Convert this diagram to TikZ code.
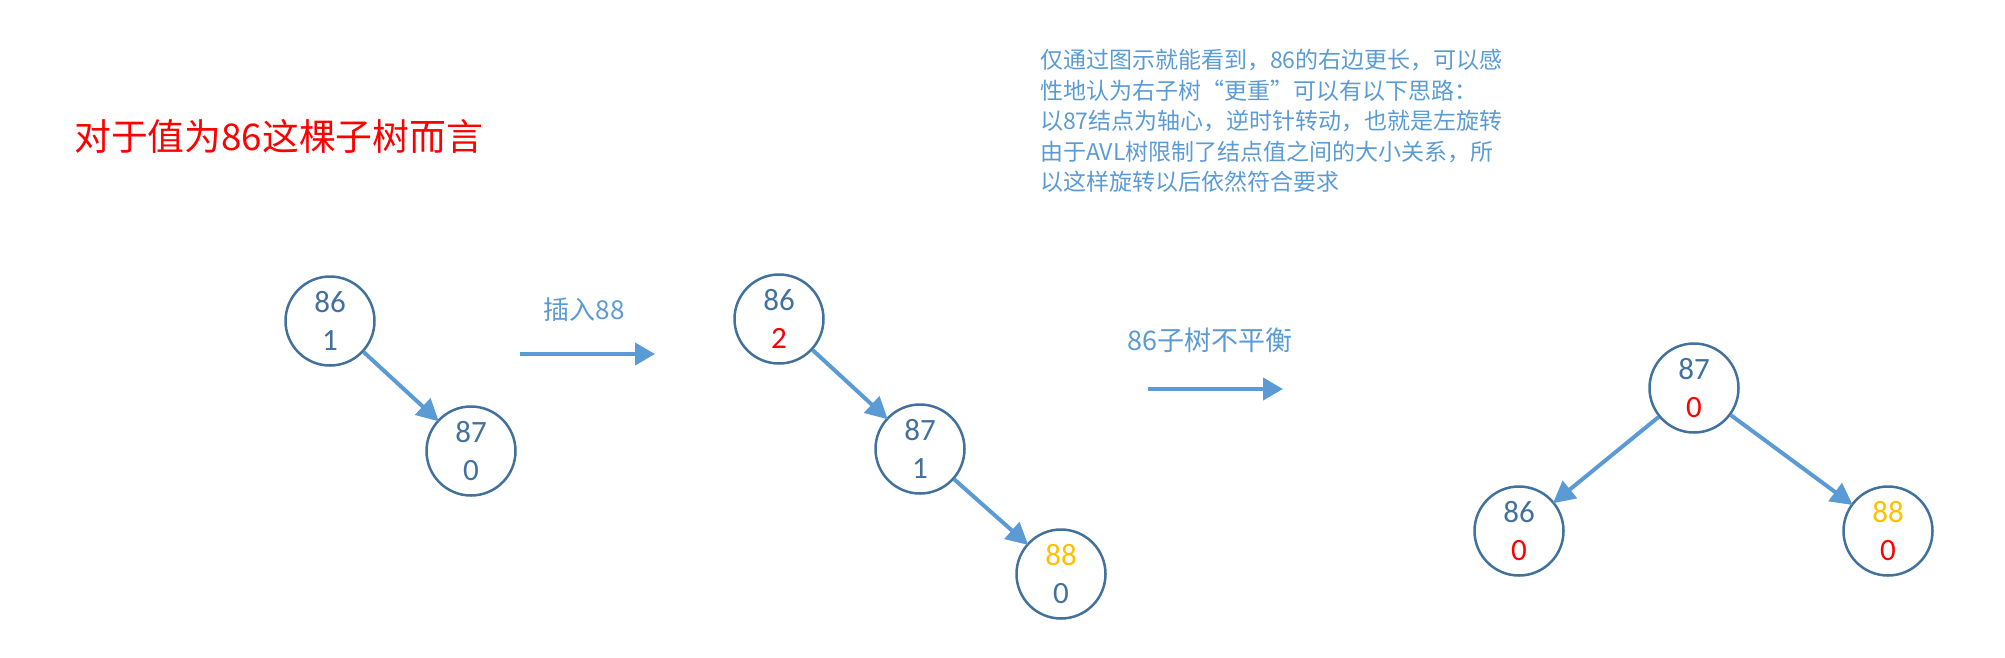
\documentclass[tikz,border=0pt]{standalone}
\usepackage{fontspec}
\setmainfont{Carlito}
\newfontfamily\cjk{Noto Sans CJK SC}
\usetikzlibrary{arrows.meta}
\definecolor{nodeblue}{HTML}{41719C}
\definecolor{lightblue}{HTML}{5B9BD5}
\definecolor{myred}{HTML}{FF0000}
\definecolor{myyellow}{HTML}{FFC000}
\tikzset{
  treenode/.style={circle, draw=nodeblue, line width=2.5pt, minimum size=89pt, inner sep=0pt,
    align=center, text=nodeblue, font=\fontsize{31}{38}\selectfont},
  edgearrow/.style={draw=lightblue, line width=4pt, -{Triangle[length=22pt,width=22pt]}, shorten >=-2pt},
  steparrow/.style={draw=lightblue, line width=4pt, -{Triangle[length=20pt,width=22pt]}},
  steplabel/.style={text=lightblue, inner sep=0pt},
}
\begin{document}
\begin{tikzpicture}[x=1pt,y=-1pt]
\useasboundingbox (0,0) rectangle (2005,657);
% title
\node[anchor=west, inner sep=0pt, text=myred, font=\cjk\fontsize{36.8}{40}\selectfont] (title) at (74,136) {对于值为86这棵子树而言};
% explanation
\node[anchor=north west, inner sep=0pt, align=left, text=lightblue, font=\cjk\fontsize{23}{30.5}\selectfont] (note) at (1040,49)
{仅通过图示就能看到，86的右边更长，可以感\\
性地认为右子树“更重”可以有以下思路：\\
以87结点为轴心，逆时针转动，也就是左旋转\\
由于AVL树限制了结点值之间的大小关系，所\\
以这样旋转以后依然符合要求};
% tree 1
\node[treenode] (a1) at (330,321) {86\\1};
\node[treenode] (a2) at (471,451) {87\\0};
\draw[edgearrow] (a1) -- (a2);
% arrow 1
\coordinate (s1) at (520,354);
\coordinate (e1) at (655,354);
\draw[steparrow] (s1) -- (e1);
\node[steplabel, font=\cjk\fontsize{26}{30}\selectfont] (l1) at (584,310) {插入88};
% tree 2
\node[treenode] (b1) at (779,319) {86\\{\color{myred}2}};
\node[treenode] (b2) at (920,449) {87\\1};
\node[treenode] (b3) at (1061,574) {{\color{myyellow}88}\\0};
\draw[edgearrow] (b1) -- (b2);
\draw[edgearrow] (b2) -- (b3);
% arrow 2
\coordinate (s2) at (1148,389);
\coordinate (e2) at (1283,389);
\draw[steparrow] (s2) -- (e2);
\node[steplabel, font=\cjk\fontsize{27}{30}\selectfont] (l2) at (1210,340) {86子树不平衡};
% tree 3
\node[treenode] (c1) at (1694,388) {87\\{\color{myred}0}};
\node[treenode] (c2) at (1519,531) {86\\{\color{myred}0}};
\node[treenode] (c3) at (1888,531) {{\color{myyellow}88}\\{\color{myred}0}};
\draw[edgearrow] (c1) -- (c2);
\draw[edgearrow] (c1) -- (c3);
\end{tikzpicture}
\end{document}
